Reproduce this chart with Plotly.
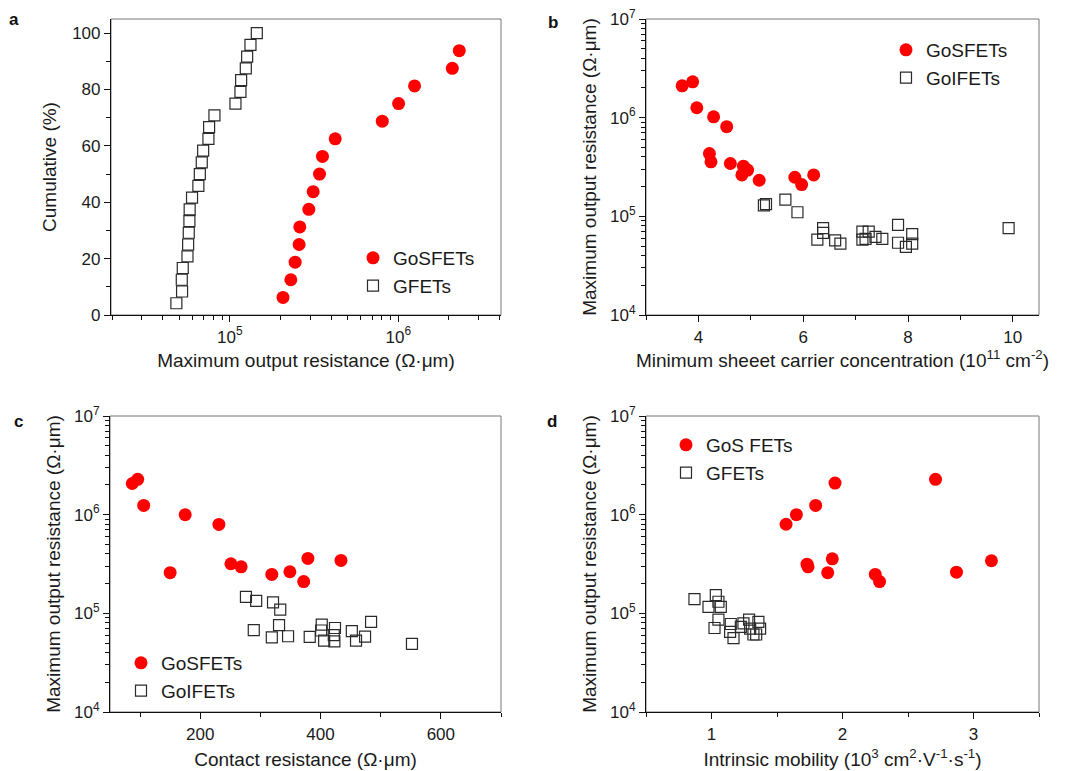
import plotly.graph_objects as go

# ---------------- Panel a: cumulative distribution ----------------
a_gos_r = [207000, 230400, 244300, 258000, 260400, 294600, 312700, 341000,
           355000, 422500, 804000, 1005000, 1250000, 2094000, 2303000]
a_gos_cum = [6.25, 12.5, 18.75, 25.0, 31.25, 37.5, 43.75, 50.0, 56.25,
             62.5, 68.75, 75.0, 81.25, 87.5, 93.75]
a_gfet_r = [48200, 52100, 51900, 52600, 56100, 56600, 57100, 57600, 57800,
            59700, 65100, 66400, 68200, 69500, 74700, 75400, 81100, 108100,
            115700, 116800, 124500, 126800, 132700, 144700]
a_gfet_cum = [4.17, 8.33, 12.5, 16.67, 20.83, 25.0, 29.17, 33.33, 37.5, 41.67,
              45.83, 50.0, 54.17, 58.33, 62.5, 66.67, 70.83, 75.0, 79.17,
              83.33, 87.5, 91.67, 95.83, 100.0]

# ---------------- Panel b: vs minimum sheet carrier concentration ----------------
b_gos_n = [3.69, 3.89, 3.97, 4.29, 4.54, 4.21, 4.24, 4.61, 4.86, 4.94, 4.83,
           5.16, 5.84, 5.97, 6.20]
b_gos_r = [2.10e6, 2.31e6, 1.26e6, 1.02e6, 8.1e5, 4.33e5, 3.57e5, 3.43e5,
           3.22e5, 2.94e5, 2.63e5, 2.32e5, 2.49e5, 2.10e5, 2.63e5]
b_goi_n = [5.25, 5.29, 5.66, 5.89, 6.27, 6.38, 6.38, 6.61, 6.71, 7.13, 7.25,
           7.13, 7.19, 7.38, 7.51, 7.81, 7.81, 7.96, 8.08, 8.08, 9.92]
b_goi_r = [1.29e5, 1.33e5, 1.48e5, 1.10e5, 5.8e4, 7.6e4, 6.8e4, 5.7e4, 5.3e4,
           7.0e4, 7.0e4, 5.8e4, 5.9e4, 6.2e4, 5.9e4, 8.2e4, 5.4e4, 4.9e4,
           6.6e4, 5.3e4, 7.6e4]

# ---------------- Panel c: vs contact resistance ----------------
c_gos_rc = [87, 96, 106, 175, 231, 150, 251, 268, 319, 349, 372, 379, 434]
c_gos_r = [2.07e6, 2.28e6, 1.24e6, 1.0e6, 7.97e5, 2.58e5, 3.18e5, 2.96e5,
           2.48e5, 2.64e5, 2.10e5, 3.60e5, 3.44e5]
c_goi_rc = [276, 293, 321, 333, 289, 331, 319, 346, 382, 402, 401, 406, 424,
            422, 423, 452, 459, 474, 484, 552]
c_goi_r = [1.47e5, 1.34e5, 1.29e5, 1.09e5, 6.75e4, 7.6e4, 5.7e4, 5.86e4,
           5.77e4, 7.7e4, 6.7e4, 5.3e4, 7.1e4, 6.0e4, 5.2e4, 6.6e4, 5.3e4,
           5.8e4, 8.2e4, 4.9e4]

# ---------------- Panel d: vs intrinsic mobility ----------------
d_gos_mu = [1.569, 1.648, 1.795, 1.943, 2.710, 1.729, 1.737, 1.922, 1.887,
            2.250, 2.283, 2.870, 3.137]
d_gos_r = [8.0e5, 1.0e6, 1.24e6, 2.09e6, 2.28e6, 3.15e5, 2.96e5, 3.57e5,
           2.58e5, 2.48e5, 2.10e5, 2.61e5, 3.41e5]
d_gfet_mu = [0.870, 1.033, 1.053, 0.977, 1.071, 1.053, 1.023, 1.147, 1.142,
             1.168, 1.224, 1.244, 1.287, 1.295, 1.320, 1.341, 1.358, 1.371]
d_gfet_r = [1.39e5, 1.53e5, 1.31e5, 1.16e5, 1.16e5, 8.65e4, 7.1e4, 7.8e4,
            6.5e4, 5.6e4, 7.3e4, 7.9e4, 8.65e4, 7.0e4, 6.1e4, 6.1e4, 8.2e4,
            7.0e4]

# ---------------- tick labels ----------------
log_y_vals = [1e4, 1e5, 1e6, 1e7]
log_y_text = ["10<sup>4</sup>", "10<sup>5</sup>", "10<sup>6</sup>", "10<sup>7</sup>"]
a_x_vals = [1e5, 1e6]
a_x_text = ["10<sup>5</sup>", "10<sup>6</sup>"]

FONT = "Liberation Sans, Arial, sans-serif"
TXT = "#1a1a1a"
RED = "#ff0000"
SQ = "#2a2a2a"
# the page body has an 8px margin, so the figure is offset by 8px
OFF = 8
W, H = 1075 - OFF, 771 - OFF


def minor_log(lo_dec, hi_dec, lo=None, hi=None):
    vals = []
    for d in range(lo_dec, hi_dec + 1):
        for m in range(2, 10):
            v = m * 10 ** d
            if (lo is None or v >= lo) and (hi is None or v <= hi):
                vals.append(v)
    return vals


fig = go.Figure()

circle = dict(symbol="circle", size=13, color=RED, line=dict(width=0))
square = dict(symbol="square-open", size=11, color=SQ, line=dict(width=1.2, color=SQ))

# Panel a
fig.add_trace(go.Scatter(x=a_gos_r, y=a_gos_cum, mode="markers", name="GoSFETs",
                         marker=circle, xaxis="x", yaxis="y", legend="legend"))
fig.add_trace(go.Scatter(x=a_gfet_r, y=a_gfet_cum, mode="markers", name="GFETs",
                         marker=square, xaxis="x", yaxis="y", legend="legend"))
# Panel b
fig.add_trace(go.Scatter(x=b_gos_n, y=b_gos_r, mode="markers", name="GoSFETs",
                         marker=circle, xaxis="x2", yaxis="y2", legend="legend2"))
fig.add_trace(go.Scatter(x=b_goi_n, y=b_goi_r, mode="markers", name="GoIFETs",
                         marker=square, xaxis="x2", yaxis="y2", legend="legend2"))
# Panel c
fig.add_trace(go.Scatter(x=c_gos_rc, y=c_gos_r, mode="markers", name="GoSFETs",
                         marker=circle, xaxis="x3", yaxis="y3", legend="legend3"))
fig.add_trace(go.Scatter(x=c_goi_rc, y=c_goi_r, mode="markers", name="GoIFETs",
                         marker=square, xaxis="x3", yaxis="y3", legend="legend3"))
# Panel d
fig.add_trace(go.Scatter(x=d_gos_mu, y=d_gos_r, mode="markers", name="GoS FETs",
                         marker=circle, xaxis="x4", yaxis="y4", legend="legend4"))
fig.add_trace(go.Scatter(x=d_gfet_mu, y=d_gfet_r, mode="markers", name="GFETs",
                         marker=square, xaxis="x4", yaxis="y4", legend="legend4"))


def px_x(p):
    return (p - OFF) / W


def px_y(p):
    return 1 - (p - OFF) / H


common = dict(showline=True, linecolor="#111", linewidth=1.2, mirror=False,
              automargin=False, ticklabeloverflow="allow",
              ticks="outside", ticklen=6, tickwidth=1, tickcolor="#111",
              showgrid=False, zeroline=False,
              tickfont=dict(family=FONT, size=17, color=TXT),
              title_font=dict(family=FONT, size=19, color=TXT))

minor_lin = lambda vals: dict(tickvals=vals, ticks="outside", ticklen=4,
                              tickcolor="#111", showgrid=False)

dom_a = dict(x=[px_x(111), px_x(501)], y=[px_y(315), px_y(19)])
dom_b = dict(x=[px_x(646), px_x(1039)], y=[px_y(315), px_y(19)])
dom_c = dict(x=[px_x(110), px_x(501)], y=[px_y(712), px_y(416)])
dom_d = dict(x=[px_x(646), px_x(1039)], y=[px_y(712), px_y(416)])

ytitle = "Maximum output resistance (Ω·μm)"

fig.update_layout(
    width=W, height=H,
    margin=dict(l=0, r=0, t=0, b=0, autoexpand=False),
    paper_bgcolor="white", plot_bgcolor="white",
    font=dict(family=FONT, color=TXT),
    # panel a
    xaxis=dict(common, type="log", domain=dom_a["x"], anchor="y",
               range=[4.295, 6.61], tickvals=a_x_vals, ticktext=a_x_text,
               minor=minor_lin(minor_log(4, 6, 2e4, 4e6)),
               title=dict(text="Maximum output resistance (Ω·μm)", standoff=8)),
    yaxis=dict(common, domain=dom_a["y"], anchor="x", range=[0, 105],
               tickvals=[0, 20, 40, 60, 80, 100],
               minor=minor_lin([10, 30, 50, 70, 90]),
               title=dict(text="Cumulative (%)", standoff=10)),
    # panel b
    xaxis2=dict(common, domain=dom_b["x"], anchor="y2", range=[3, 10.5],
                tickvals=[4, 6, 8, 10], minor=minor_lin([3, 5, 7, 9]),
                title=dict(text="Minimum sheeet carrier concentration (10<sup>11</sup> cm<sup>-2</sup>)",
                           standoff=8)),
    yaxis2=dict(common, type="log", domain=dom_b["y"], anchor="x2", range=[4, 7],
                tickvals=log_y_vals, ticktext=log_y_text,
                minor=minor_lin(minor_log(4, 6)),
                title=dict(text=ytitle, standoff=8)),
    # panel c
    xaxis3=dict(common, domain=dom_c["x"], anchor="y3", range=[50, 700],
                tickvals=[200, 400, 600], minor=minor_lin([100, 300, 500, 700]),
                title=dict(text="Contact resistance (Ω·μm)", standoff=10)),
    yaxis3=dict(common, type="log", domain=dom_c["y"], anchor="x3", range=[4, 7],
                tickvals=log_y_vals, ticktext=log_y_text,
                minor=minor_lin(minor_log(4, 6)),
                title=dict(text=ytitle, standoff=8)),
    # panel d
    xaxis4=dict(common, domain=dom_d["x"], anchor="y4", range=[0.5, 3.5],
                tickvals=[1, 2, 3], minor=minor_lin([0.5, 1.5, 2.5, 3.5]),
                title=dict(text="Intrinsic mobility (10<sup>3</sup> cm<sup>2</sup>·V<sup>-1</sup>·s<sup>-1</sup>)",
                           standoff=10)),
    yaxis4=dict(common, type="log", domain=dom_d["y"], anchor="x4", range=[4, 7],
                tickvals=log_y_vals, ticktext=log_y_text,
                minor=minor_lin(minor_log(4, 6)),
                title=dict(text=ytitle, standoff=8)),
)

legend_common = dict(font=dict(family=FONT, size=19, color=TXT),
                     bgcolor="rgba(0,0,0,0)", borderwidth=0,
                     xanchor="left", yanchor="top", tracegroupgap=0,
                     itemsizing="trace")
fig.update_layout(
    legend=dict(legend_common, x=px_x(353), y=px_y(239)),
    legend2=dict(legend_common, x=px_x(886), y=px_y(31)),
    legend3=dict(legend_common, x=px_x(121), y=px_y(644)),
    legend4=dict(legend_common, x=px_x(666), y=px_y(426)),
)

# light frame (top/right borders)
for xr, yr in [("x", "y"), ("x2", "y2"), ("x3", "y3"), ("x4", "y4")]:
    fig.add_shape(type="rect", xref=f"{xr} domain", yref=f"{yr} domain",
                  x0=0, x1=1, y0=0, y1=1, line=dict(color="#777", width=1),
                  layer="below")

# panel letters
for lbl, x, y in [("a", 14, 20), ("b", 553, 22), ("c", 18, 421), ("d", 552, 421)]:
    fig.add_annotation(text=f"<b>{lbl}</b>", x=px_x(x), y=px_y(y), xref="paper",
                       yref="paper", showarrow=False, xanchor="center",
                       yanchor="middle", font=dict(family=FONT, size=17, color="#111"))

fig.write_html("out.html")
